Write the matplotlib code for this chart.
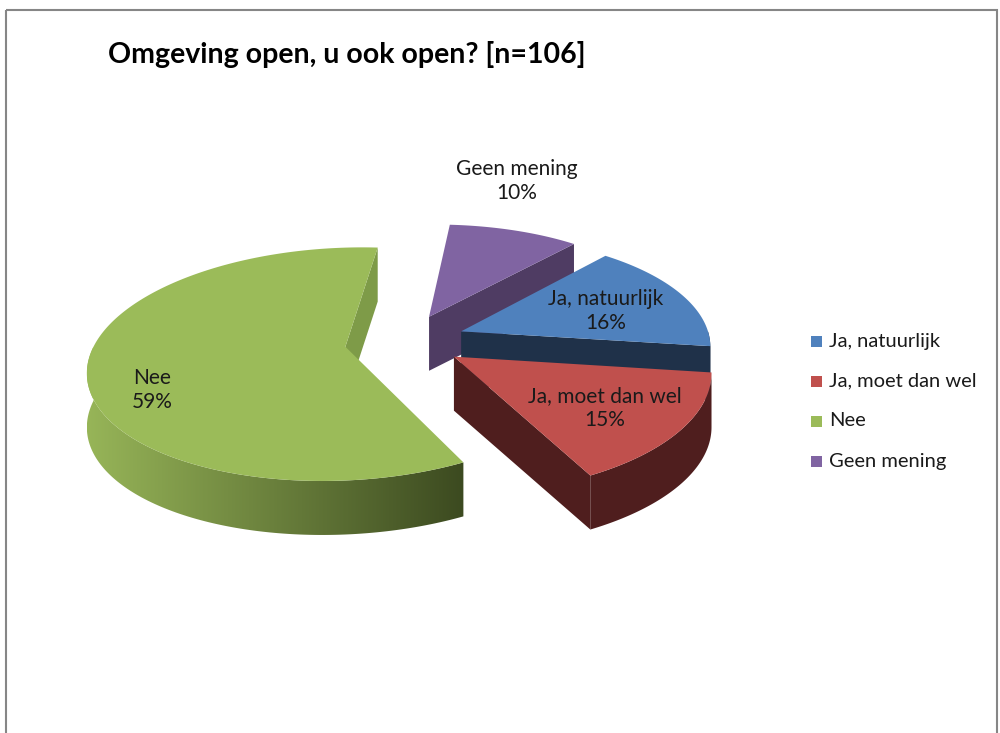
# plot.py
# Taart 3D (Excel-stijl) : Omgeving open, u ook open?

import numpy as np
import matplotlib
matplotlib.use("Agg")
import matplotlib.pyplot as plt
from matplotlib.patches import Polygon, Rectangle
from matplotlib.colors import LinearSegmentedColormap

# DATA
TITLE = "Omgeving open, u ook open? [n=106]"
CATEGORIES = ["Ja, natuurlijk", "Ja, moet dan wel", "Nee", "Geen mening"]
PERCENT = [16, 15, 59, 10]

# KLEUREN (top, zijkant)
TOP_COLORS = ["#4F81BD", "#C0504D", "#9BBB59", "#8064A2"]
FACE_COLORS = ["#1F3149", "#4F1E1E", "#7E9B48", "#4F3C63"]

# GEOMETRIE (pixels)
CX, CY = 405, 341      # midden van de taart
VX = 477               # verdwijnpunt (x) voor het perspectief
A, B = 250, 112.5      # halve assen
D = 54                 # dikte
P = 0.148              # perspectief
EXPLODE = 0.24
FIRST_ANGLE = 40       # graden, met de klok mee vanaf 12 uur

LABEL_XY = [(606, 311), (605, 408), (152, 390), (517, 181)]

FONT = "Lato"

fig = plt.figure(figsize=(10, 7.33), dpi=100)
ax = fig.add_axes([0, 0, 1, 1])
ax.set_xlim(0, 1000)
ax.set_ylim(733, 0)
ax.axis("off")


def proj(u, v, z):
    s = 1.0 / (1.0 + P * v)
    return VX + (CX + A * u - VX) * s, CY - B * v * s + D * z


def rim(off, angles, z):
    u = off[0] + np.sin(np.radians(angles))
    v = off[1] + np.cos(np.radians(angles))
    return [proj(ui, vi, z) for ui, vi in zip(u, v)]


total = float(sum(PERCENT))
starts = []
a0 = FIRST_ANGLE
for p in PERCENT:
    starts.append((a0, a0 + 360.0 * p / total))
    a0 += 360.0 * p / total

# tekenvolgorde: van achter naar voor
order = sorted(range(len(PERCENT)),
               key=lambda i: np.cos(np.radians(sum(starts[i]) / 2)),
               reverse=True)

green_cmap = LinearSegmentedColormap.from_list("g", ["#97B558", "#3C4A20"])

for i in order:
    t1, t2 = starts[i]
    mid = np.radians((t1 + t2) / 2)
    off = (EXPLODE * np.sin(mid), EXPLODE * np.cos(mid))
    tip_top = proj(off[0], off[1], 0)
    tip_bot = proj(off[0], off[1], 1)

    # zijkant (alleen voorkant zichtbaar)
    lo, hi = max(t1, 90), min(t2, 270)
    if lo < hi:
        ang = np.linspace(lo, hi, 120)
        top = rim(off, ang, 0)
        bot = rim(off, ang, 1)
        side = Polygon(top + bot[::-1], closed=True, lw=0)
        if i == 2:
            side.set_facecolor("none")
            ax.add_patch(side)
            xs = [pt[0] for pt in top + bot]
            ys = [pt[1] for pt in top + bot]
            grad = np.linspace(0, 1, 256).reshape(1, -1)
            im = ax.imshow(grad, cmap=green_cmap, aspect="auto",
                           extent=(min(xs), max(xs), max(ys), min(ys)),
                           zorder=1)
            im.set_clip_path(side)
        else:
            side.set_facecolor(FACE_COLORS[i])
            ax.add_patch(side)

    # snijvlak aan het einde van de punt
    e_top = rim(off, [t2], 0)[0]
    e_bot = rim(off, [t2], 1)[0]
    ax.add_patch(Polygon([tip_top, e_top, e_bot, tip_bot], closed=True,
                         fc=FACE_COLORS[i], lw=0, zorder=1))

    # bovenkant
    ang = np.linspace(t1, t2, 200)
    ax.add_patch(Polygon([tip_top] + rim(off, ang, 0), closed=True,
                         fc=TOP_COLORS[i], lw=0, zorder=1))

# labels
for i, (x, y) in enumerate(LABEL_XY):
    ax.text(x, y, f"{CATEGORIES[i]}\n{PERCENT[i]}%", ha="center", va="center",
            fontsize=15, family=FONT, color="#1A1A1A", linespacing=1.3,
            zorder=5)

# titel
ax.text(108, 63, TITLE, ha="left", va="baseline", fontsize=20.5,
        fontweight="bold", family=FONT, color="black")

# legenda
for i, name in enumerate(CATEGORIES):
    y = 341 + 40 * i
    ax.add_patch(Rectangle((811, y - 5.5), 11, 11, fc=TOP_COLORS[i], lw=0))
    ax.text(829, y, name, ha="left", va="center", fontsize=14.5,
            family=FONT, color="#1A1A1A")

# kader
ax.add_patch(Rectangle((6, 10), 991, 740, fill=False, ec="#868686", lw=1.5,
                       zorder=6))

fig.savefig("out.png", dpi=100)
